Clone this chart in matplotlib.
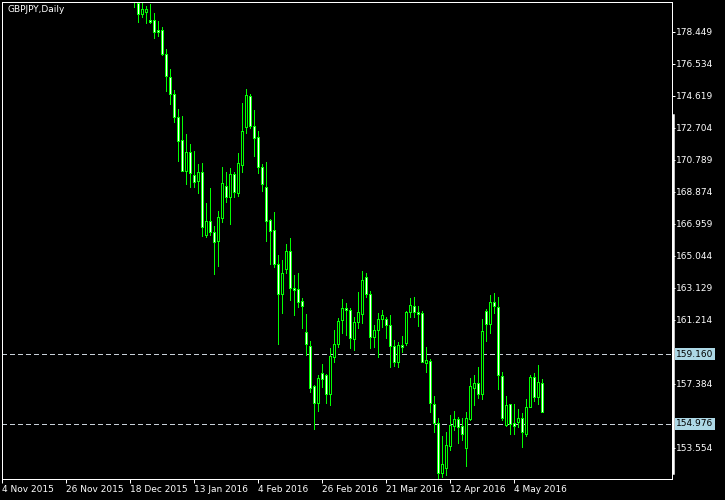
import pandas as pd
import matplotlib
matplotlib.use("Agg")
import matplotlib.pyplot as plt
from matplotlib.lines import Line2D

TITLE = "GBPJPY,Daily"
OUT_FILE = "out.png"

# Bars in the window (broker skips 25 Dec and 1 Jan)
dates = [d for d in pd.bdate_range("2015-11-04", "2016-05-13")
         if (d.month, d.day) not in ((12, 25), (1, 1))]

# OHLC from 21 Dec 2015 on, earlier bars sit above the visible range
first_date = pd.Timestamp("2015-12-21")
opens = [180.90, 180.15, 179.49, 179.61, 179.15, 179.13, 178.55, 178.55, 177.10, 175.72,
         174.70, 173.33, 171.95, 170.13, 171.23, 169.86, 169.53, 170.07, 166.30, 167.12,
         166.44, 165.94, 167.32, 169.23, 168.54, 169.93, 168.81, 170.47, 172.76, 174.58,
         172.81, 172.15, 170.33, 169.14, 167.18, 166.58, 164.53, 162.73, 164.23, 165.31,
         163.09, 163.03, 162.33, 160.46, 159.64, 157.26, 156.21, 158.00, 157.90, 156.75,
         159.00, 159.74, 161.20, 161.91, 161.79, 160.04, 161.09, 161.54, 163.75, 162.73,
         160.16, 160.58, 161.27, 161.26, 160.88, 159.66, 158.66, 159.68, 159.80, 161.69,
         162.01, 161.67, 161.60, 158.60, 158.74, 156.15, 155.01, 152.02, 152.36, 153.65,
         154.87, 155.25, 154.87, 153.52, 155.25, 157.11, 157.41, 156.75, 161.73, 160.98,
         162.25, 161.99, 157.84, 154.91, 156.15, 155.05, 155.07, 155.31, 154.35, 156.01,
         157.76, 156.57, 157.41]
highs = [181.20, 180.35, 180.15, 179.99, 180.11, 179.55, 179.07, 178.71, 177.40, 176.22,
         174.96, 173.82, 173.40, 172.33, 171.73, 171.31, 170.53, 170.57, 168.18, 169.08,
         166.82, 167.72, 170.33, 170.04, 170.27, 170.07, 171.17, 174.17, 175.02, 174.72,
         173.76, 172.51, 170.53, 170.63, 167.24, 167.66, 165.09, 164.79, 165.74, 166.08,
         163.89, 164.03, 162.49, 161.55, 159.96, 157.30, 157.90, 158.56, 157.96, 159.50,
         160.60, 161.30, 162.45, 162.19, 161.90, 161.36, 162.87, 164.13, 163.99, 162.93,
         160.88, 161.60, 161.79, 161.39, 161.50, 160.00, 159.88, 160.24, 161.75, 162.51,
         162.55, 162.03, 161.73, 159.56, 158.86, 156.65, 155.31, 154.25, 154.49, 155.51,
         155.75, 155.41, 155.31, 155.67, 157.71, 157.90, 158.36, 161.24, 161.84, 162.69,
         162.79, 162.55, 158.06, 156.65, 156.15, 156.17, 155.85, 155.61, 156.45, 157.90,
         158.00, 158.50, 157.66]
lows = [179.95, 179.05, 179.31, 178.95, 178.99, 178.09, 178.19, 177.06, 174.92, 174.10,
        173.06, 170.71, 170.10, 169.35, 169.17, 169.17, 168.81, 166.24, 166.18, 166.28,
        163.95, 164.43, 167.04, 168.27, 166.94, 168.57, 168.62, 170.07, 172.37, 172.69,
        171.03, 170.01, 168.93, 165.94, 164.55, 164.38, 159.76, 161.63, 163.99, 162.39,
        161.49, 161.96, 160.70, 159.10, 156.90, 154.67, 155.77, 157.17, 156.21, 156.11,
        158.70, 159.56, 160.40, 160.30, 159.54, 159.40, 160.70, 161.00, 162.59, 159.54,
        159.60, 159.00, 160.79, 160.10, 158.40, 158.46, 158.40, 159.30, 159.70, 161.36,
        161.36, 160.84, 158.66, 158.10, 155.71, 154.51, 151.68, 151.82, 151.92, 153.41,
        154.61, 153.85, 154.01, 152.47, 155.21, 156.11, 156.51, 156.47, 159.96, 160.44,
        161.60, 157.05, 155.21, 154.87, 154.37, 154.37, 154.81, 153.61, 154.27, 156.01,
        156.37, 156.17, 155.67]
closes = [180.40, 179.49, 179.79, 179.79, 179.03, 178.45, 178.45, 177.10, 175.82, 174.70,
          173.33, 171.93, 170.13, 171.23, 169.98, 169.47, 170.07, 166.74, 167.12, 166.48,
          165.88, 167.34, 169.38, 168.54, 169.93, 168.86, 170.57, 172.51, 174.64, 172.81,
          172.11, 170.33, 169.35, 167.14, 166.54, 164.53, 162.73, 163.99, 165.35, 163.09,
          162.99, 162.29, 162.05, 159.74, 157.11, 156.21, 157.71, 157.66, 156.75, 159.04,
          159.74, 161.13, 161.90, 161.81, 160.10, 161.06, 161.66, 163.59, 162.73, 160.16,
          160.58, 161.24, 161.48, 160.88, 159.66, 158.66, 159.68, 159.56, 161.66, 162.07,
          161.66, 161.57, 158.70, 158.80, 156.21, 155.01, 152.02, 152.56, 153.71, 154.91,
          155.25, 154.77, 154.35, 155.31, 157.25, 157.41, 156.75, 160.54, 160.98, 162.25,
          162.03, 157.90, 155.31, 156.09, 154.95, 154.87, 155.31, 154.47, 156.01, 157.76,
          156.57, 157.47, 155.67]

# Price scale and horizontal lines
price_ticks = [178.449, 176.534, 174.619, 172.704, 170.789, 168.874, 166.959,
               165.044, 163.129, 161.214, 157.384, 153.554]
level_lines = [159.160, 154.976]
price_min, price_max = 151.68, 180.227

BG = "black"
FG = "white"
CANDLE = "#00ff00"
LEVEL = "#c8d0d8"
LABEL_BOX = "#add8e6"
FONT = 6.5
PX = 0.72  # one pixel in points at dpi 100

fig = plt.figure(figsize=(7.25, 5), dpi=100, facecolor=BG)
ax = fig.add_axes([2 / 725, 21 / 500, 670 / 725, 477 / 500], facecolor=BG)

# Candles, drawn without smoothing like the terminal does
start = dates.index(first_date)
xs = list(range(start, start + len(opens)))
ax.vlines(xs, lows, highs, color=CANDLE, linewidth=PX, antialiased=False, zorder=2)
for x, o, c in zip(xs, opens, closes):
    face = FG if c < o else BG
    ax.bar(x, max(abs(c - o), 0.02), bottom=min(o, c), width=0.5,
           facecolor=face, edgecolor=CANDLE, linewidth=PX, antialiased=False, zorder=3)

for lvl in level_lines:
    ax.axhline(lvl, color=LEVEL, linewidth=PX, linestyle=(0, (5, 4)),
               antialiased=False, zorder=1)

ax.set_xlim(-0.1, 167.4)
ax.set_ylim(price_min, price_max)

# Date axis, label every 16 bars
tick_idx = list(range(0, len(dates), 16))
tick_labels = [f"{dates[i].day} {dates[i]:%b %Y}" for i in tick_idx]
ax.set_xticks(tick_idx)
ax.set_xticklabels(tick_labels, ha="left")
ax.tick_params(axis="x", colors=FG, length=3, width=PX, pad=1.5, labelsize=FONT)

ax.yaxis.tick_right()
ax.set_yticks(price_ticks)
ax.set_yticklabels([f"{t:.3f}" for t in price_ticks])
ax.tick_params(axis="y", colors=FG, length=2.2, width=PX, pad=1, labelsize=FONT)

for s in ax.spines.values():
    s.set_color(FG)
    s.set_linewidth(PX)

# Highlighted labels of the level lines
for lvl in level_lines:
    ax.annotate(f"{lvl:.3f}", xy=(1, lvl), xycoords=ax.get_yaxis_transform(),
                xytext=(3, 0), textcoords="offset points", va="center", ha="left",
                fontsize=FONT, color="black",
                bbox=dict(boxstyle="square,pad=0.15", facecolor=LABEL_BOX, edgecolor="none"))

fig.text(7 / 725, 1 - 10 / 500, TITLE, color=FG, fontsize=FONT, va="center", ha="left")

# Thick marker on the right edge
fig.add_artist(Line2D([672.5 / 725] * 2, [1 - 115 / 500, 1 - 473 / 500],
                      color=FG, linewidth=1.8))

fig.savefig(OUT_FILE, dpi=100, facecolor=BG)
